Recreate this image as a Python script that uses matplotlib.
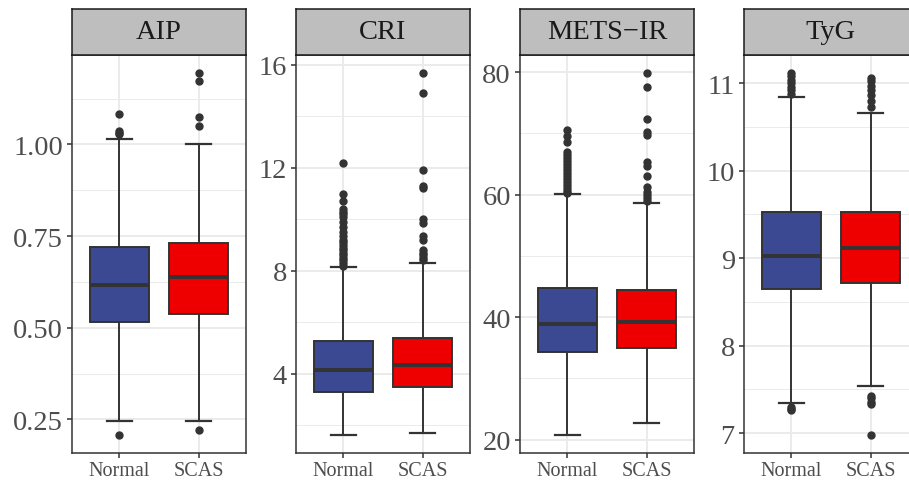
import matplotlib
matplotlib.use("Agg")
import matplotlib.pyplot as plt
from matplotlib.ticker import FixedLocator, AutoMinorLocator

plt.rcParams["font.family"] = ["Liberation Serif", "DejaVu Serif"]

groups = ["Normal", "SCAS"]
panels = ["AIP", "CRI", "METS−IR", "TyG"]

# five-number summaries: whisker low, q1, median, q3, whisker high
aip_normal = [0.245, 0.517, 0.618, 0.720, 1.014]
aip_scas = [0.247, 0.537, 0.638, 0.732, 1.000]
aip_normal_out = [0.208, 1.028, 1.032, 1.037, 1.084]
aip_scas_out = [0.222, 1.051, 1.076, 1.172, 1.196]

cri_normal = [1.62, 3.28, 4.14, 5.25, 8.13]
cri_scas = [1.68, 3.47, 4.33, 5.37, 8.30]
cri_normal_out = [8.2, 8.3, 8.4, 8.5, 8.6, 8.7, 8.8, 8.9, 9.0, 9.1, 9.2, 9.35,
                  9.5, 9.7, 9.9, 10.1, 10.2, 10.3, 10.4, 10.7, 11.0, 12.17]
cri_scas_out = [8.4, 8.5, 8.6, 8.7, 8.8, 9.2, 9.35, 9.86, 10.0, 11.2, 11.3,
                11.9, 14.9, 15.7]

mets_normal = [20.8, 34.4, 38.9, 44.7, 60.1]
mets_scas = [22.8, 34.9, 39.2, 44.4, 58.6]
mets_normal_out = [60.3, 60.6, 61.0, 61.5, 62.0, 62.5, 63.0, 63.5, 64.0, 64.5,
                   65.0, 65.5, 66.0, 66.5, 67.0, 68.5, 69.6, 70.6]
mets_scas_out = [59.0, 59.5, 60.0, 60.5, 61.2, 63.0, 64.7, 65.3, 69.8, 70.2,
                 72.4, 77.6, 79.9]

tyg_normal = [7.34, 8.65, 9.02, 9.53, 10.84]
tyg_scas = [7.54, 8.72, 9.11, 9.53, 10.66]
tyg_normal_out = [7.26, 7.28, 7.30, 10.88, 10.92, 10.96, 11.0, 11.04, 11.08, 11.12]
tyg_scas_out = [6.98, 7.33, 7.36, 7.40, 7.43, 10.73, 10.80, 10.86, 10.92,
                10.97, 11.02, 11.06]

aip_ticks = [0.25, 0.50, 0.75, 1.00]
aip_labels = ["0.25", "0.50", "0.75", "1.00"]
cri_ticks = [4, 8, 12, 16]
mets_ticks = [20, 40, 60, 80]
tyg_ticks = [7, 8, 9, 10, 11]

fills = ["#3B4992", "#EE0000"]
dark = "#333333"
grid = "#EBEBEB"


def make_stats(summary, out):
    lo, q1, med, q3, hi = summary
    return {"whislo": lo, "q1": q1, "med": med, "q3": q3, "whishi": hi,
            "fliers": out}


data = [
    ([aip_normal, aip_scas], [aip_normal_out, aip_scas_out], aip_ticks, aip_labels),
    ([cri_normal, cri_scas], [cri_normal_out, cri_scas_out], cri_ticks,
     [str(t) for t in cri_ticks]),
    ([mets_normal, mets_scas], [mets_normal_out, mets_scas_out], mets_ticks,
     [str(t) for t in mets_ticks]),
    ([tyg_normal, tyg_scas], [tyg_normal_out, tyg_scas_out], tyg_ticks,
     [str(t) for t in tyg_ticks]),
]

W, H = 909, 481
fig = plt.figure(figsize=(W / 100, H / 100), dpi=100)

lefts = [72, 296, 520, 744]
pw = 174
p_top, p_bot = 55.5, 454
s_top = 10

for i, (summ, outs, ticks, labels) in enumerate(data):
    x0 = lefts[i]
    ax = fig.add_axes([x0 / W, (H - p_bot) / H, pw / W, (p_bot - p_top) / H])
    stats = [make_stats(s, o) for s, o in zip(summ, outs)]
    res = ax.bxp(
        stats, positions=[1, 2], widths=0.75, patch_artist=True,
        capwidths=0.32,
        boxprops=dict(edgecolor=dark, linewidth=1.4),
        medianprops=dict(color=dark, linewidth=2.8, solid_capstyle="butt"),
        whiskerprops=dict(color=dark, linewidth=1.4),
        capprops=dict(color=dark, linewidth=1.6),
        flierprops=dict(marker="o", markerfacecolor=dark, markeredgecolor=dark,
                        markersize=5, linestyle="none"),
    )
    for patch, c in zip(res["boxes"], fills):
        patch.set_facecolor(c)

    vals = [v for s in summ for v in s] + [v for o in outs for v in o]
    lo, hi = min(vals), max(vals)
    pad = (hi - lo) * 0.05
    ax.set_ylim(lo - pad, hi + pad)
    ax.set_xlim(0.4, 2.6)

    ax.yaxis.set_major_locator(FixedLocator(ticks))
    ax.set_yticklabels(labels)
    ax.yaxis.set_minor_locator(AutoMinorLocator(2))
    ax.set_xticks([1, 2])
    ax.set_xticklabels(groups)

    ax.set_axisbelow(True)
    ax.grid(True, which="major", color=grid, linewidth=1.4)
    ax.grid(True, which="minor", axis="y", color=grid, linewidth=0.7)

    ax.tick_params(axis="y", which="major", labelsize=20.5, labelcolor="#4D4D4D",
                   color=dark, length=3.6, width=1.1, pad=3)
    ax.tick_params(axis="x", which="major", labelsize=14.5, labelcolor="#4D4D4D",
                   color=dark, length=3.6, width=1.1, pad=2)
    ax.tick_params(which="minor", length=0)
    for sp in ax.spines.values():
        sp.set_color(dark)
        sp.set_linewidth(1.1)

    sax = fig.add_axes([x0 / W, (H - p_top) / H, pw / W, (p_top - s_top) / H])
    sax.set_facecolor("#BEBEBE")
    sax.set_xticks([])
    sax.set_yticks([])
    for sp in sax.spines.values():
        sp.set_color("#1A1A1A")
        sp.set_linewidth(1.1)
    sax.text(0.5, 0.5, panels[i], ha="center", va="center", fontsize=20.5,
             color="#1A1A1A", transform=sax.transAxes)

fig.savefig("out.png", dpi=100)
